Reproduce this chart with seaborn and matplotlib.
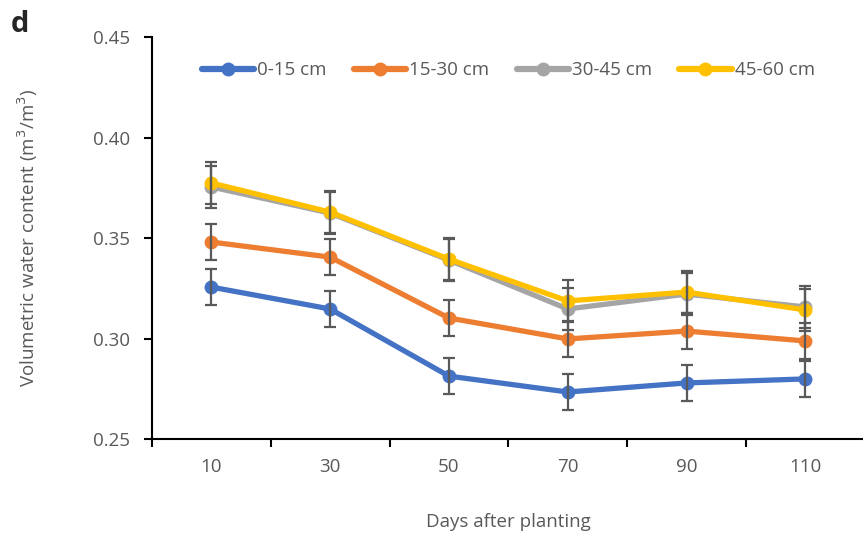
import numpy as np
import pandas as pd
import seaborn as sns
import matplotlib.pyplot as plt

days = ["10", "30", "50", "70", "90", "110"]
depths = ["0-15 cm", "15-30 cm", "30-45 cm", "45-60 cm"]
colors = ["#4472C4", "#ED7D31", "#A5A5A5", "#FFC000"]

vwc_0_15 = [0.3256, 0.3147, 0.2813, 0.2734, 0.2779, 0.2799]
vwc_15_30 = [0.3480, 0.3405, 0.3102, 0.2998, 0.3037, 0.2988]
vwc_30_45 = [0.3754, 0.3624, 0.3390, 0.3147, 0.3221, 0.3157]
vwc_45_60 = [0.3774, 0.3629, 0.3395, 0.3187, 0.3231, 0.3142]

err_0_15 = [0.009, 0.009, 0.009, 0.009, 0.009, 0.009]
err_15_30 = [0.009, 0.009, 0.009, 0.009, 0.009, 0.009]
err_30_45 = [0.0105, 0.0105, 0.0105, 0.0105, 0.0105, 0.0105]
err_45_60 = [0.0105, 0.0105, 0.0105, 0.0105, 0.0105, 0.0105]

values = [vwc_0_15, vwc_15_30, vwc_30_45, vwc_45_60]
errors = [err_0_15, err_15_30, err_30_45, err_45_60]

rows = []
for d, vals, errs in zip(depths, values, errors):
    for i, (v, e) in enumerate(zip(vals, errs)):
        rows.append({"pos": i, "day": days[i], "depth": d, "vwc": v, "err": e})
df = pd.DataFrame(rows)

sns.set_theme(style="white")
plt.rcParams["font.family"] = ["Open Sans", "DejaVu Sans"]
grey = "#595959"
fs = 13.5

fig = plt.figure(figsize=(8.63, 5.42), dpi=100)
ax = fig.add_axes([0.176, 0.19, 0.826, 0.7417])

sns.lineplot(data=df, x="pos", y="vwc", hue="depth", hue_order=depths,
             palette=colors, marker="o", markersize=10, markeredgewidth=0,
             linewidth=3.8, sort=False, ax=ax, zorder=3)

for d, c in zip(depths, colors):
    sub = df[df["depth"] == d]
    ax.errorbar(sub["pos"], sub["vwc"], yerr=sub["err"], fmt="none",
                ecolor=grey, elinewidth=1.6, capsize=4, capthick=1.6, zorder=4)

ax.set_xlim(-0.5, 5.5)
ax.set_ylim(0.25, 0.45)
ax.set_yticks([0.25, 0.30, 0.35, 0.40, 0.45])
ax.set_yticklabels(["0.25", "0.30", "0.35", "0.40", "0.45"])
ax.set_xticks(range(len(days)))
ax.set_xticklabels(days)
ax.set_xticks(np.arange(-0.5, 6, 1), minor=True)
ax.tick_params(axis="x", which="major", length=0, pad=14, labelsize=fs, labelcolor=grey)
ax.tick_params(axis="x", which="minor", length=6, width=1.5, color="black", direction="out", bottom=True)
ax.tick_params(axis="y", length=6, width=1.5, color="black", direction="out", left=True,
               labelsize=fs, labelcolor=grey, pad=10)

for side in ["top", "right"]:
    ax.spines[side].set_visible(False)
for side in ["left", "bottom"]:
    ax.spines[side].set_color("black")
    ax.spines[side].set_linewidth(1.5)

ax.set_xlabel("Days after planting", fontsize=fs, color=grey, labelpad=26)
ax.set_ylabel("Volumetric water content (m$^3$/m$^3$)", fontsize=fs, color=grey, labelpad=38)

handles, labels = ax.get_legend_handles_labels()
for h in handles:
    h.set_linewidth(4.5)
ax.legend(handles, labels, loc="center", bbox_to_anchor=(0.5, 0.917), ncol=4,
          frameon=False, fontsize=fs, handlelength=2.8, handletextpad=0.15,
          columnspacing=1.45, labelcolor=grey)

fig.text(0.012, 0.955, "d", fontsize=21, fontweight="bold", va="center", ha="left")

fig.savefig("out.png", dpi=100)
